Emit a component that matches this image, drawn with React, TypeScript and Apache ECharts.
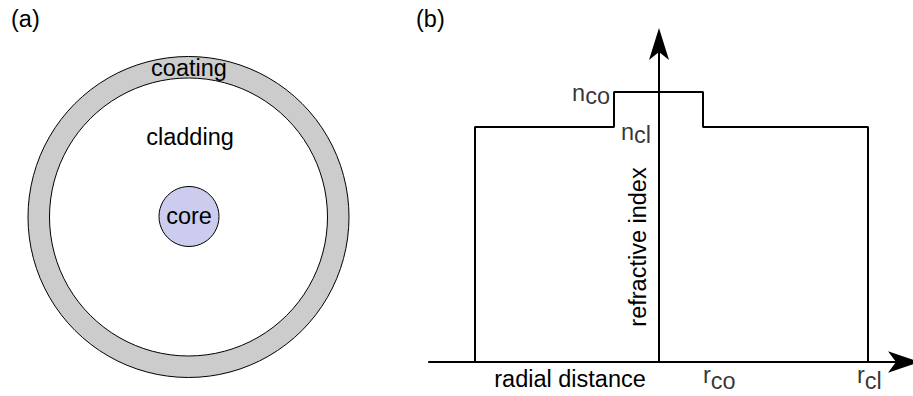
import React, { useEffect, useRef } from "react";
import * as echarts from "echarts";

const FONT = "'Liberation Sans', Arial, Helvetica, sans-serif";
const FS = 23.5;

// Step-index refractive profile: vertices along the radial distance
const profileRadius = [-18.4, -18.4, -4.5, -4.5, 4.4, 4.4, 20.9, 20.9];
const profileIndex = [0, 23.5, 23.5, 27.0, 27.0, 23.5, 23.5, 0];

// Axis extents
const radiusRange = [-23, 24.5];
const indexRange = [0, 31.8];

// Annotated levels and radii
const nCore = 27.0;
const nClad = 23.5;
const rCoreEdge = 4.4;
const rCladEdge = 20.9;
const rCoreLeft = -4.5;

// Fibre cross-section layer names
const layerNames = ["coating", "cladding", "core"];

export default function App() {
  const ref = useRef<HTMLDivElement>(null);

  useEffect(() => {
    if (!ref.current) return;
    document.body.style.margin = "0";
    const chart = echarts.init(ref.current, undefined, { renderer: "svg" });

    const rich = (subPad: number) => ({
      b: { fontSize: FS, fontFamily: FONT, color: "#000", lineHeight: 30, verticalAlign: "top" },
      s: {
        fontSize: FS,
        fontFamily: FONT,
        color: "#000",
        lineHeight: 30,
        verticalAlign: "top",
        padding: [subPad, 0, 0, 0],
      },
    });

    const labelPoint = (
      x: number,
      y: number,
      text: string,
      pos: number[],
      align: string,
      subPad: number
    ) => ({
      value: [x, y],
      label: {
        show: true,
        formatter: text,
        position: pos,
        align,
        verticalAlign: "top",
        rich: rich(subPad),
      },
    });

    const arrowLine = (size: number[]) => ({
      show: true,
      onZero: true,
      symbol: ["none", "arrow"],
      symbolSize: size,
      symbolOffset: [0, 16],
      lineStyle: { color: "#000", width: 2 },
    });

    chart.setOption({
      animation: false,
      backgroundColor: "#fff",
      grid: { left: 429, right: 9, top: 44, bottom: 34, containLabel: false },
      xAxis: {
        type: "value",
        min: radiusRange[0],
        max: radiusRange[1],
        axisLine: arrowLine([16, 32]),
        axisTick: { show: false },
        axisLabel: { show: false },
        splitLine: { show: false },
      },
      yAxis: {
        type: "value",
        min: indexRange[0],
        max: indexRange[1],
        axisLine: arrowLine([15, 32]),
        axisTick: { show: false },
        axisLabel: { show: false },
        splitLine: { show: false },
      },
      series: [
        {
          type: "line",
          data: profileRadius.map((r, i) => [r, profileIndex[i]]),
          symbol: "none",
          lineStyle: { color: "#000", width: 2 },
          z: 3,
        },
        {
          type: "scatter",
          symbolSize: 0,
          itemStyle: { color: "transparent" },
          silent: true,
          data: [
            labelPoint(rCoreLeft, nCore, "{b|n}{s|co}", [-4, -11], "right", 3),
            labelPoint(0, nClad, "{b|n}{s|cl}", [-8, -7], "right", 3),
            labelPoint(rCoreEdge, 0, "{b|r}{s|co}", [0, 1], "left", 6),
            labelPoint(rCladEdge, 0, "{b|r}{s|cl}", [-11, 1], "left", 6),
          ],
          z: 4,
        },
      ],
      graphic: [
        {
          type: "text",
          left: 11,
          top: 7,
          style: { text: "(a)", font: `${FS}px ${FONT}`, fill: "#000" },
        },
        {
          type: "text",
          left: 416,
          top: 7,
          style: { text: "(b)", font: `${FS}px ${FONT}`, fill: "#000" },
        },
        {
          type: "circle",
          shape: { cx: 188.5, cy: 217, r: 160.5 },
          style: { fill: "#cccccc", stroke: "#000", lineWidth: 1 },
        },
        {
          type: "circle",
          shape: { cx: 188.5, cy: 217, r: 139 },
          style: { fill: "#fff", stroke: "#000", lineWidth: 1 },
        },
        {
          type: "circle",
          shape: { cx: 189, cy: 216.5, r: 30 },
          style: { fill: "#ccccee", stroke: "#000", lineWidth: 1 },
        },
        {
          type: "text",
          x: 189,
          y: 68,
          style: {
            text: layerNames[0],
            font: `${FS}px ${FONT}`,
            fill: "#000",
            textAlign: "center",
            textVerticalAlign: "middle",
          },
        },
        {
          type: "text",
          x: 190,
          y: 137,
          style: {
            text: layerNames[1],
            font: `${FS}px ${FONT}`,
            fill: "#000",
            textAlign: "center",
            textVerticalAlign: "middle",
          },
        },
        {
          type: "text",
          x: 189,
          y: 216,
          style: {
            text: layerNames[2],
            font: `${FS}px ${FONT}`,
            fill: "#000",
            textAlign: "center",
            textVerticalAlign: "middle",
          },
        },
        {
          type: "text",
          x: 570,
          y: 379,
          style: {
            text: "radial distance",
            font: `${FS}px ${FONT}`,
            fill: "#000",
            textAlign: "center",
            textVerticalAlign: "middle",
          },
        },
        {
          type: "text",
          x: 638,
          y: 247,
          rotation: Math.PI / 2,
          style: {
            text: "refractive index",
            font: `${FS}px ${FONT}`,
            fill: "#000",
            textAlign: "center",
            textVerticalAlign: "middle",
          },
        },
      ],
    });

    return () => chart.dispose();
  }, []);

  return <div ref={ref} style={{ width: 913, height: 396 }} />;
}
